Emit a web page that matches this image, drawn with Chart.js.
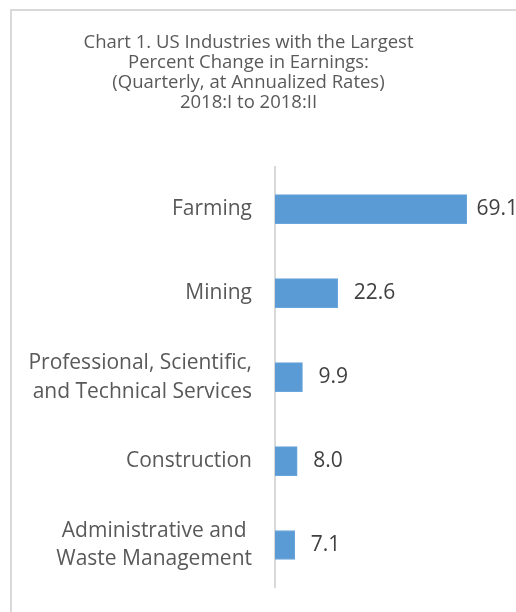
<!DOCTYPE html>
<html>
<head>
<meta charset="utf-8">
<script src="https://cdn.jsdelivr.net/npm/chart.js@4"></script>
<style>
  html, body { margin: 0; padding: 0; background: #fff; }
  #wrap { width: 516px; height: 612px; }
</style>
</head>
<body>
<div id="wrap"><canvas id="earnings-chart" width="516" height="612"></canvas></div>
<script>
const industries = [
    'Farming',
    'Mining',
    ['Professional, Scientific,', 'and Technical Services'],
    'Construction',
    ['Administrative and ', 'Waste Management']
];
const pctChange = [69.1, 22.6, 9.9, 8.0, 7.1];
const titleLines = [
    'Chart 1. US Industries with the Largest',
    'Percent Change in Earnings:',
    '(Quarterly, at Annualized Rates)',
    '2018:I to 2018:II'
];

const textGrey = '#595959';
const fontName = "'Open Sans', sans-serif";

// frame round the chart area, as in the spreadsheet export
const framePlugin = {
    id: 'frame',
    beforeDraw(chart) {
        const c = chart.ctx;
        c.save();
        c.fillStyle = '#fff';
        c.fillRect(0, 0, chart.width, chart.height);
        c.strokeStyle = '#d9d9d9';
        c.lineWidth = 2;
        c.beginPath();
        c.moveTo(chart.width + 5, 10);
        c.lineTo(11, 10);
        c.lineTo(11, chart.height + 5);
        c.stroke();
        c.restore();
    }
};

// value labels next to each bar
const valueLabels = {
    id: 'valueLabels',
    afterDatasetsDraw(chart) {
        const c = chart.ctx;
        const meta = chart.getDatasetMeta(0);
        c.save();
        c.font = '21px ' + fontName;
        c.fillStyle = '#404040';
        c.textBaseline = 'middle';
        meta.data.forEach(function(bar, i) {
            const txt = pctChange[i].toFixed(1);
            const w = c.measureText(txt).width;
            const x = Math.min(bar.x + 16, chart.width - w + 2);
            c.fillText(txt, x, bar.y);
        });
        c.restore();
    }
};

const ctx_earn = document.getElementById('earnings-chart').getContext('2d');
const barChart = new Chart(ctx_earn, {
    type: 'bar',
    data: {
        labels: industries,
        datasets: [{
            data: pctChange,
            backgroundColor: '#5b9bd5',
            borderColor: '#6aa6dc',
            borderWidth: 1,
            barThickness: 29
        }]
    },
    options: {
        indexAxis: 'y',
        responsive: false,
        animation: false,
        layout: {
            padding: { left: 0, right: 19, top: 0, bottom: 25 }
        },
        plugins: {
            legend: { display: false },
            tooltip: { enabled: false },
            title: {
                display: true,
                text: titleLines,
                color: textGrey,
                font: { family: fontName, size: 18.5, weight: 'normal', lineHeight: 1.07 },
                padding: { top: 33, bottom: 55 }
            }
        },
        scales: {
            x: {
                display: false,
                min: 0,
                max: 80
            },
            y: {
                afterFit(scale) {
                    scale.width = 275;
                    scale.paddingTop = 0;
                    scale.paddingBottom = 0;
                },
                grid: { display: false, drawTicks: false },
                border: { display: true, color: '#d9d9d9', width: 2 },
                ticks: {
                    color: textGrey,
                    padding: 23,
                    font: { family: fontName, size: 21, lineHeight: 1.38 }
                }
            }
        }
    },
    plugins: [framePlugin, valueLabels]
});
</script>
</body>
</html>
